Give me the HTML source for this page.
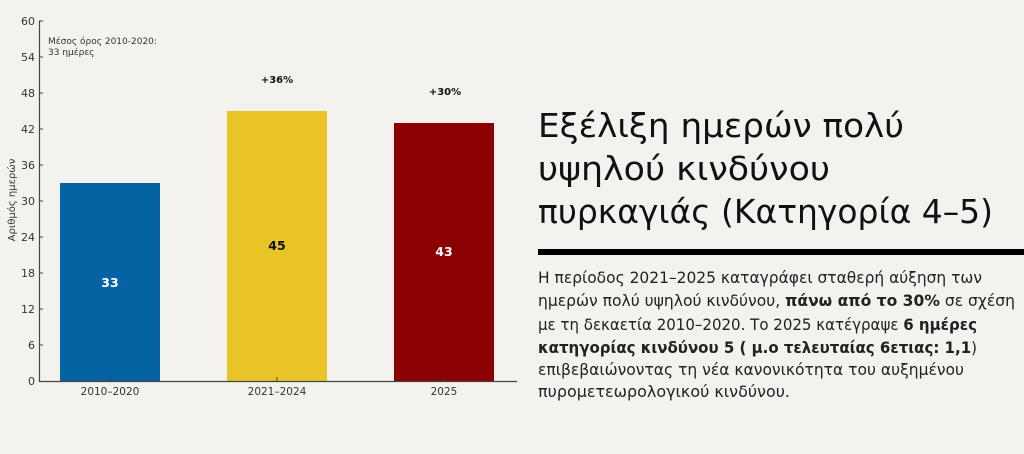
<!DOCTYPE html>
<html><head><meta charset="utf-8"><style>
html,body{margin:0;padding:0;background:#f3f2ee;}
svg{display:block;font-family:"DejaVu Sans",sans-serif;}
</style></head><body>
<svg width="1024" height="454" viewBox="0 0 1024 454" xmlns="http://www.w3.org/2000/svg">
<rect width="1024" height="454" fill="#f3f2ee"/>
<rect x="60" y="183" width="100" height="198" fill="#0563a3"/>
<rect x="227" y="111" width="100" height="270" fill="#e9c427"/>
<rect x="394" y="123" width="100" height="258" fill="#8b0000"/>
<line x1="39.5" y1="21" x2="39.5" y2="381.5" stroke="#444" stroke-width="1.2"/>
<line x1="39" y1="381.5" x2="517" y2="381.5" stroke="#444" stroke-width="1.2"/>
<g stroke="#444" stroke-width="1">
<line x1="39" y1="21" x2="43" y2="21"/><line x1="39" y1="57" x2="43" y2="57"/><line x1="39" y1="93" x2="43" y2="93"/>
<line x1="39" y1="129" x2="43" y2="129"/><line x1="39" y1="165" x2="43" y2="165"/><line x1="39" y1="201" x2="43" y2="201"/>
<line x1="39" y1="237" x2="43" y2="237"/><line x1="39" y1="273" x2="43" y2="273"/><line x1="39" y1="309" x2="43" y2="309"/>
<line x1="39" y1="345" x2="43" y2="345"/>
<line x1="110" y1="381" x2="110" y2="377"/><line x1="277" y1="381" x2="277" y2="377"/><line x1="444" y1="381" x2="444" y2="377"/>
</g>
<g font-size="11" fill="#333" text-anchor="end">
<text x="35" y="25">60</text><text x="35" y="61">54</text><text x="35" y="97">48</text><text x="35" y="133">42</text>
<text x="35" y="169">36</text><text x="35" y="205">30</text><text x="35" y="241">24</text><text x="35" y="277">18</text>
<text x="35" y="313">12</text><text x="35" y="349">6</text><text x="35" y="385">0</text>
</g>
<text transform="translate(15,200) rotate(-90)" font-size="10" fill="#333" text-anchor="middle">Αριθμός ημερών</text>
<g font-size="10.5" fill="#333" text-anchor="middle">
<text x="110" y="395">2010–2020</text><text x="277" y="395">2021–2024</text><text x="444" y="395">2025</text>
</g>
<g font-size="9" fill="#333">
<text x="48" y="44">Μέσος όρος 2010-2020:</text><text x="48" y="55">33 ημέρες</text>
</g>
<g font-size="10" font-weight="bold" fill="#111" text-anchor="middle">
<text x="277" y="83">+36%</text><text x="445" y="95">+30%</text>
</g>
<g font-size="12.5" font-weight="bold" text-anchor="middle">
<text x="110" y="287" fill="#fff">33</text><text x="277" y="250" fill="#111">45</text><text x="444" y="256" fill="#fff">43</text>
</g>
<g font-size="33" fill="#111">
<text x="538" y="137" textLength="366" lengthAdjust="spacingAndGlyphs">Εξέλιξη ημερών πολύ</text>
<text x="538" y="180" textLength="292" lengthAdjust="spacingAndGlyphs">υψηλού κινδύνου</text>
<text x="538" y="223" textLength="455" lengthAdjust="spacingAndGlyphs">πυρκαγιάς (Κατηγορία 4–5)</text>
</g>
<rect x="538" y="249" width="486" height="6" fill="#000"/>
<g font-size="16" fill="#222">
<text x="538" y="283" textLength="444" lengthAdjust="spacingAndGlyphs">Η περίοδος 2021–2025 καταγράφει σταθερή αύξηση των</text>
<text x="538" y="306" textLength="477" lengthAdjust="spacingAndGlyphs">ημερών πολύ υψηλού κινδύνου, <tspan font-weight="bold">πάνω από το 30%</tspan> σε σχέση</text>
<text x="538" y="330" textLength="439" lengthAdjust="spacingAndGlyphs">με τη δεκαετία 2010–2020. Το 2025 κατέγραψε <tspan font-weight="bold">6 ημέρες</tspan></text>
<text x="538" y="353" textLength="439" lengthAdjust="spacingAndGlyphs"><tspan font-weight="bold">κατηγορίας κινδύνου 5 ( μ.ο τελευταίας 6ετιας: 1,1</tspan>)</text>
<text x="538" y="375" textLength="426" lengthAdjust="spacingAndGlyphs">επιβεβαιώνοντας τη νέα κανονικότητα του αυξημένου</text>
<text x="538" y="397" textLength="252" lengthAdjust="spacingAndGlyphs">πυρομετεωρολογικού κινδύνου.</text>
</g>
</svg>
</body></html>
